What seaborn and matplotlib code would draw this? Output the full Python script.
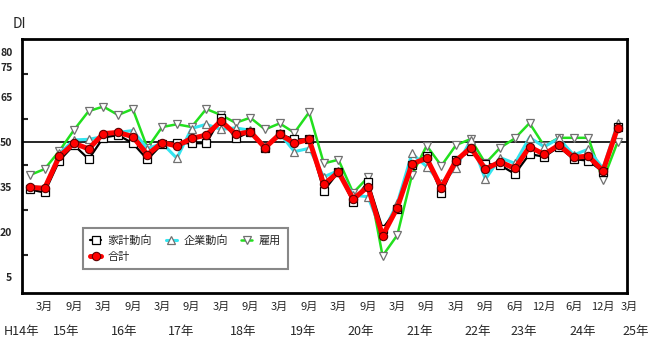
import numpy as np
import pandas as pd
import matplotlib
matplotlib.use("Agg")
import matplotlib.pyplot as plt
import seaborn as sns

# quarterly survey points (index 0 = H14 Dec)
kakei = [34.2, 33.2, 43.8, 49.0, 44.3, 51.5, 52.3, 49.6, 44.2, 49.3,
         49.6, 49.6, 49.6, 58.1, 51.2, 53.4, 47.9, 52.6, 50.9, 50.9,
         33.8, 40.0, 29.9, 36.8, 21.2, 27.6, 42.3, 45.4, 32.9, 44.0,
         47.1, 42.7, 42.3, 39.4, 46.0, 45.1, 48.4, 44.3, 43.8, 40.1, 55.1]
kigyo = [35.1, 34.8, 46.2, 50.7, 50.9, 51.8, 53.2, 53.8, 47.8, 49.6,
         44.6, 54.5, 55.9, 54.2, 54.7, 53.9, 48.4, 52.9, 46.8, 47.9,
         38.4, 40.5, 32.3, 31.8, 19.6, 29.6, 46.2, 41.8, 36.2, 41.5,
         50.7, 37.6, 44.8, 42.9, 51.5, 48.4, 51.2, 45.7, 47.6, 41.2, 56.2]
koyo = [39.0, 41.0, 47.0, 54.0, 60.3, 61.8, 59.0, 61.0, 48.0, 55.0,
        55.9, 55.0, 61.0, 59.0, 56.4, 58.1, 54.2, 56.2, 53.1, 59.9,
        42.9, 44.1, 33.1, 38.2, 12.1, 19.0, 39.0, 48.8, 42.1, 49.0,
        51.0, 42.9, 48.1, 51.2, 56.3, 48.7, 51.4, 51.4, 51.4, 37.3, 50.1]
gokei = [34.9, 34.6, 45.2, 49.6, 47.7, 52.8, 53.2, 51.8, 45.8, 49.8,
         48.7, 51.2, 52.3, 57.0, 52.6, 53.4, 48.1, 52.6, 49.6, 50.9,
         35.9, 40.0, 31.0, 35.1, 18.8, 28.1, 42.7, 44.6, 34.8, 43.8,
         48.1, 41.0, 43.4, 41.2, 48.4, 45.9, 49.0, 44.9, 45.3, 40.4, 54.8]

month_labels = ["", "3月", "", "9月", "", "3月", "", "9月", "", "3月",
                "", "9月", "", "3月", "", "9月", "", "3月", "", "9月",
                "", "3月", "", "9月", "", "3月", "", "9月", "", "3月",
                "", "9月", "", "6月", "", "12月", "", "6月", "", "12月", ""]
year_labels = ["H14年", "15年", "16年", "17年", "18年", "19年",
               "20年", "21年", "22年", "23年", "24年", "25年"]
year_x = [-0.6, 2.5, 6.4, 10.3, 14.5, 18.6, 22.5, 26.5, 30.5, 33.6, 37.6, 41.2]
y_ticks = [5, 20, 35, 50, 65, 75, 80]

sns.set_style("white")
plt.rcParams['font.family'] = ['Noto Sans CJK JP', 'DejaVu Sans']

idx = np.arange(len(gokei))

fig = plt.figure(figsize=(6.5, 3.61), dpi=100)
ax = fig.add_axes([0.034, 0.188, 0.931, 0.704])

ax.axhline(50, color="black", lw=1.2, zorder=1)

sns.lineplot(x=idx, y=koyo, ax=ax, color="#22e01e", lw=1.8, marker="v",
             markersize=6, markerfacecolor="white", markeredgecolor="#707070",
             markeredgewidth=0.9, label="雇用", zorder=2)
sns.lineplot(x=idx, y=kigyo, ax=ax, color="#33e5f0", lw=2.2, marker="^",
             markersize=6, markerfacecolor="white", markeredgecolor="#707070",
             markeredgewidth=0.9, label="企業動向", zorder=3)
sns.lineplot(x=idx, y=kakei, ax=ax, color="black", lw=1.6, marker="s",
             markersize=5.5, markerfacecolor="white", markeredgecolor="black",
             markeredgewidth=0.9, label="家計動向", zorder=4)
sns.lineplot(x=idx, y=gokei, ax=ax, color="#ff0000", lw=3.6, marker="o",
             markersize=6, markerfacecolor="#ff0000", markeredgecolor="#600000",
             markeredgewidth=0.8, label="合計", zorder=5)

ax.set_xlim(-0.53, 40.65)
ax.set_ylim(-0.3, 84.3)

ax.set_xticks(idx)
ax.set_xticklabels(month_labels, fontsize=8)
ax.tick_params(axis="x", direction="in", length=5, width=1.5, pad=6, color="black")
ax.text(40.8, -0.055, "3月", transform=ax.get_xaxis_transform(), ha="center",
        va="center", fontsize=8)
for yl, yx in zip(year_labels, year_x):
    ax.text(yx, -0.15, yl, transform=ax.get_xaxis_transform(), ha="center",
            va="center", fontsize=9)

ax.set_yticks(y_ticks)
ax.set_yticklabels([str(v) for v in y_ticks], fontsize=7.5, fontweight="bold")
ax.set_yticks([12.5, 27.5, 42.5, 57.5, 72.5], minor=True)
ax.tick_params(axis="y", which="major", length=0, pad=7)
ax.tick_params(axis="y", which="minor", direction="in", length=4, width=1.5, left=True)

for s in ax.spines.values():
    s.set_linewidth(2)
    s.set_color("black")

ax.set_xlabel("")
ax.set_ylabel("")

h, l = ax.get_legend_handles_labels()
order = ["家計動向", "合計", "企業動向", "雇用"]
hd = dict(zip(l, h))
ax.legend([hd[k] for k in order], order, ncol=3, loc="upper left",
          bbox_to_anchor=(0.092, 0.278), fontsize=8, handlelength=1.0,
          frameon=True, fancybox=False, edgecolor="#888888",
          columnspacing=1.2, handletextpad=0.6, borderpad=0.6,
          labelspacing=0.6, framealpha=1)
ax.get_legend().get_frame().set_linewidth(1.5)

fig.text(0.02, 0.934, "DI", fontsize=10, va="center", ha="left")

fig.savefig("out.png", dpi=100)
